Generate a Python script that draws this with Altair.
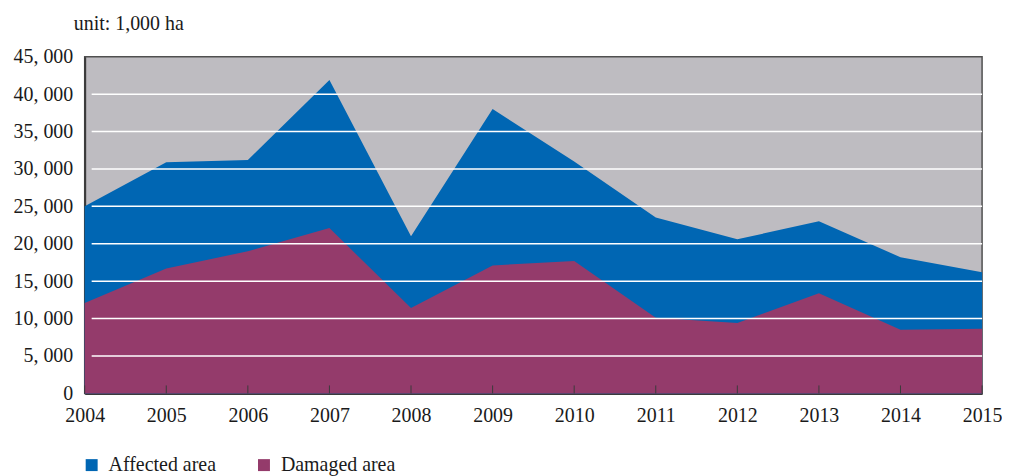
import altair as alt
import pandas as pd

years = [2004, 2005, 2006, 2007, 2008, 2009, 2010, 2011, 2012, 2013, 2014, 2015]
affected = [25000, 30900, 31200, 41900, 21000, 38000, 31000, 23500, 20600, 23000, 18200, 16200]
damaged = [12100, 16700, 19000, 22100, 11400, 17100, 17700, 10100, 9400, 13400, 8500, 8650]
series = ["Affected area", "Damaged area"]
colors = ["#0066B3", "#943B6B"]
grid_values = [5000, 10000, 15000, 20000, 25000, 30000, 35000, 40000]
y_ticks = [0, 5000, 10000, 15000, 20000, 25000, 30000, 35000, 40000, 45000]

W, H = 901, 338
FONT = "Liberation Serif"

rows = []
for y, a, d in zip(years, affected, damaged):
    rows.append({"year": y, "value": a, "series": series[0]})
    rows.append({"year": y, "value": d, "series": series[1]})
df = pd.DataFrame(rows)
grid_df = pd.DataFrame({"g": grid_values})
tick_df = pd.DataFrame({"year": years})

xscale = alt.Scale(domain=[2004, 2015], nice=False, zero=False)
yscale = alt.Scale(domain=[0, 45000], nice=False)
cscale = alt.Scale(domain=series, range=colors)

xaxis = alt.Axis(values=years, format="d", title=None, grid=False, ticks=False,
                 labelFont=FONT, labelFontSize=20, labelColor="#1a1a1a",
                 labelPadding=12, labelFlush=False, labelOverlap=False,
                 domainColor="#3a3a3a", domainWidth=2)
yaxis = alt.Axis(values=y_ticks, title=None, grid=False, ticks=False,
                 labelExpr="replace(format(datum.value, ','), ',', ', ')",
                 labelFont=FONT, labelFontSize=20, labelColor="#1a1a1a",
                 labelPadding=12, labelFlush=False, labelOverlap=False,
                 domainColor="#3a3a3a", domainWidth=2)

base = alt.Chart(df)

area_aff = base.transform_filter(alt.datum.series == series[0]).mark_area(interpolate="linear").encode(
    x=alt.X("year:Q", scale=xscale, axis=xaxis),
    y=alt.Y("value:Q", scale=yscale, axis=yaxis, stack=None),
    color=alt.Color("series:N", scale=cscale, legend=alt.Legend(
        title=None, orient="none", legendX=-3, legendY=400, direction="horizontal",
        symbolType="square", symbolSize=144, symbolStrokeWidth=0, labelFont=FONT,
        labelFontSize=20, labelColor="#1a1a1a", labelOffset=7, columnPadding=38,
        symbolOpacity=1)),
)
area_dam = base.transform_filter(alt.datum.series == series[1]).mark_area(interpolate="linear").encode(
    x=alt.X("year:Q", scale=xscale, axis=xaxis),
    y=alt.Y("value:Q", scale=yscale, stack=None, axis=yaxis),
    color=alt.Color("series:N", scale=cscale),
)

grid = alt.Chart(grid_df).mark_rule(color="white", strokeWidth=1.5).encode(
    x=alt.value(7), x2=alt.value(W),
    y=alt.Y("g:Q", scale=yscale, axis=yaxis),
)

ticks = alt.Chart(tick_df).mark_rule(color="#3a3a3a", strokeWidth=1).encode(
    x=alt.X("year:Q", scale=xscale, axis=xaxis),
    y=alt.value(H - 8), y2=alt.value(H),
)

chart = alt.layer(area_aff, area_dam, grid, ticks).properties(
    width=W, height=H,
    padding={"left": 77, "top": 48, "right": 20, "bottom": 84},
    autosize=alt.AutoSizeParams(type="none"),
    title=alt.TitleParams("unit: 1,000 ha", anchor="start", frame="group", dx=-11, offset=13,
                          font=FONT, fontSize=20, fontWeight="normal", color="#1a1a1a"),
).configure_view(
    fill="#BEBCC1", stroke="#505050", strokeWidth=1.5
).configure_axis(labelOverlap=False)

chart.save("out.html", embed_options={"renderer": "svg", "actions": False})
